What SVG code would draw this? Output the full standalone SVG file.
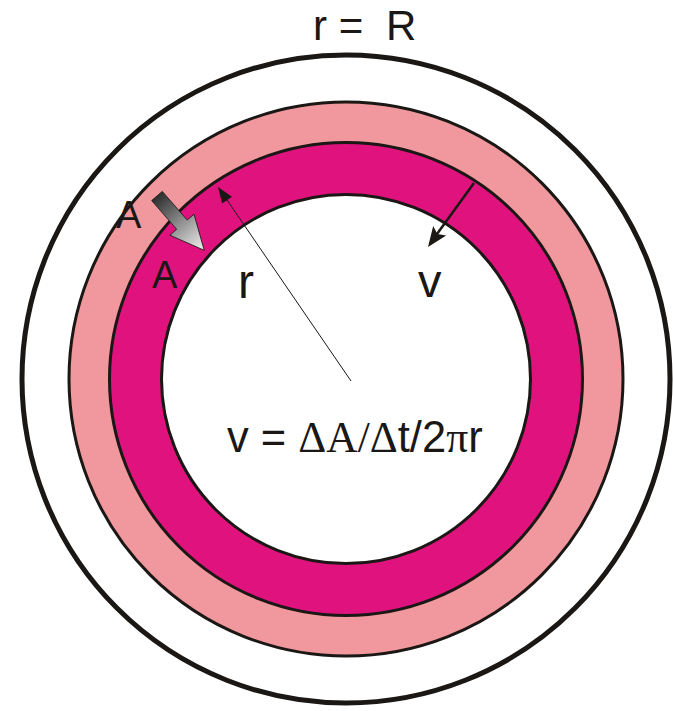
<svg xmlns="http://www.w3.org/2000/svg" width="673" height="711" viewBox="0 0 673 711">
  <style>
    .ring { stroke: #1a1714; }
    .sans { font-family: "Liberation Sans", Arial, sans-serif; fill: #1a1714; }
    .serif { font-family: "Liberation Serif", "Times New Roman", serif; }
  </style>
  <defs>
    <linearGradient id="grad" x1="0" y1="0" x2="1" y2="0">
      <stop offset="0" stop-color="#2e2e2e"/>
      <stop offset="1" stop-color="#f2f2f2"/>
    </linearGradient>
  </defs>
  <rect width="673" height="711" fill="#ffffff"/>
  <g id="outer-circle">
    <circle class="ring" cx="346" cy="379" r="324" fill="#ffffff" stroke-width="5"/>
  </g>
  <g id="pink-ring">
    <circle class="ring" cx="346" cy="379" r="277" fill="#f0989d" stroke-width="3"/>
  </g>
  <g id="magenta-ring">
    <circle class="ring" cx="346" cy="379" r="236.5" fill="#e0137e" stroke-width="3"/>
  </g>
  <g id="inner-circle">
    <circle class="ring" cx="346" cy="379" r="184.5" fill="#ffffff" stroke-width="3"/>
  </g>
  <g id="connectors">
    <g id="radius-arrow">
      <line x1="351" y1="381" x2="227" y2="200" stroke="#1a1714" stroke-width="1"/>
      <polygon points="218,187 232,196.8 222.1,203.6" fill="#1a1714"/>
    </g>
    <g id="v-arrow">
      <line x1="474" y1="183" x2="437" y2="234" stroke="#1a1714" stroke-width="2.5"/>
      <polygon points="428,247 433.2,226.1 437.4,234 446.2,235.5" fill="#1a1714"/>
    </g>
    <g id="area-arrow">
      <polygon transform="translate(157,196) rotate(49)" points="0,-7 38,-7 38,-16 72,0 38,16 38,7 0,7" fill="url(#grad)" stroke="#1a1714" stroke-width="0.8"/>
    </g>
  </g>
  <g id="labels">
    <text class="sans" x="313" y="40" font-size="42">r =</text>
    <text class="sans" x="386" y="40" font-size="42">R</text>
    <text class="sans" x="116" y="228" font-size="38">A</text>
    <text class="sans" x="152" y="288" font-size="38">A</text>
    <text class="sans" x="238" y="298" font-size="48">r</text>
    <text class="sans" x="418" y="297" font-size="47">v</text>
    <text class="sans" x="227" y="452" font-size="43.5">v = <tspan class="serif">ΔA/Δ</tspan>t/2<tspan class="serif">π</tspan>r</text>
  </g>
</svg>
